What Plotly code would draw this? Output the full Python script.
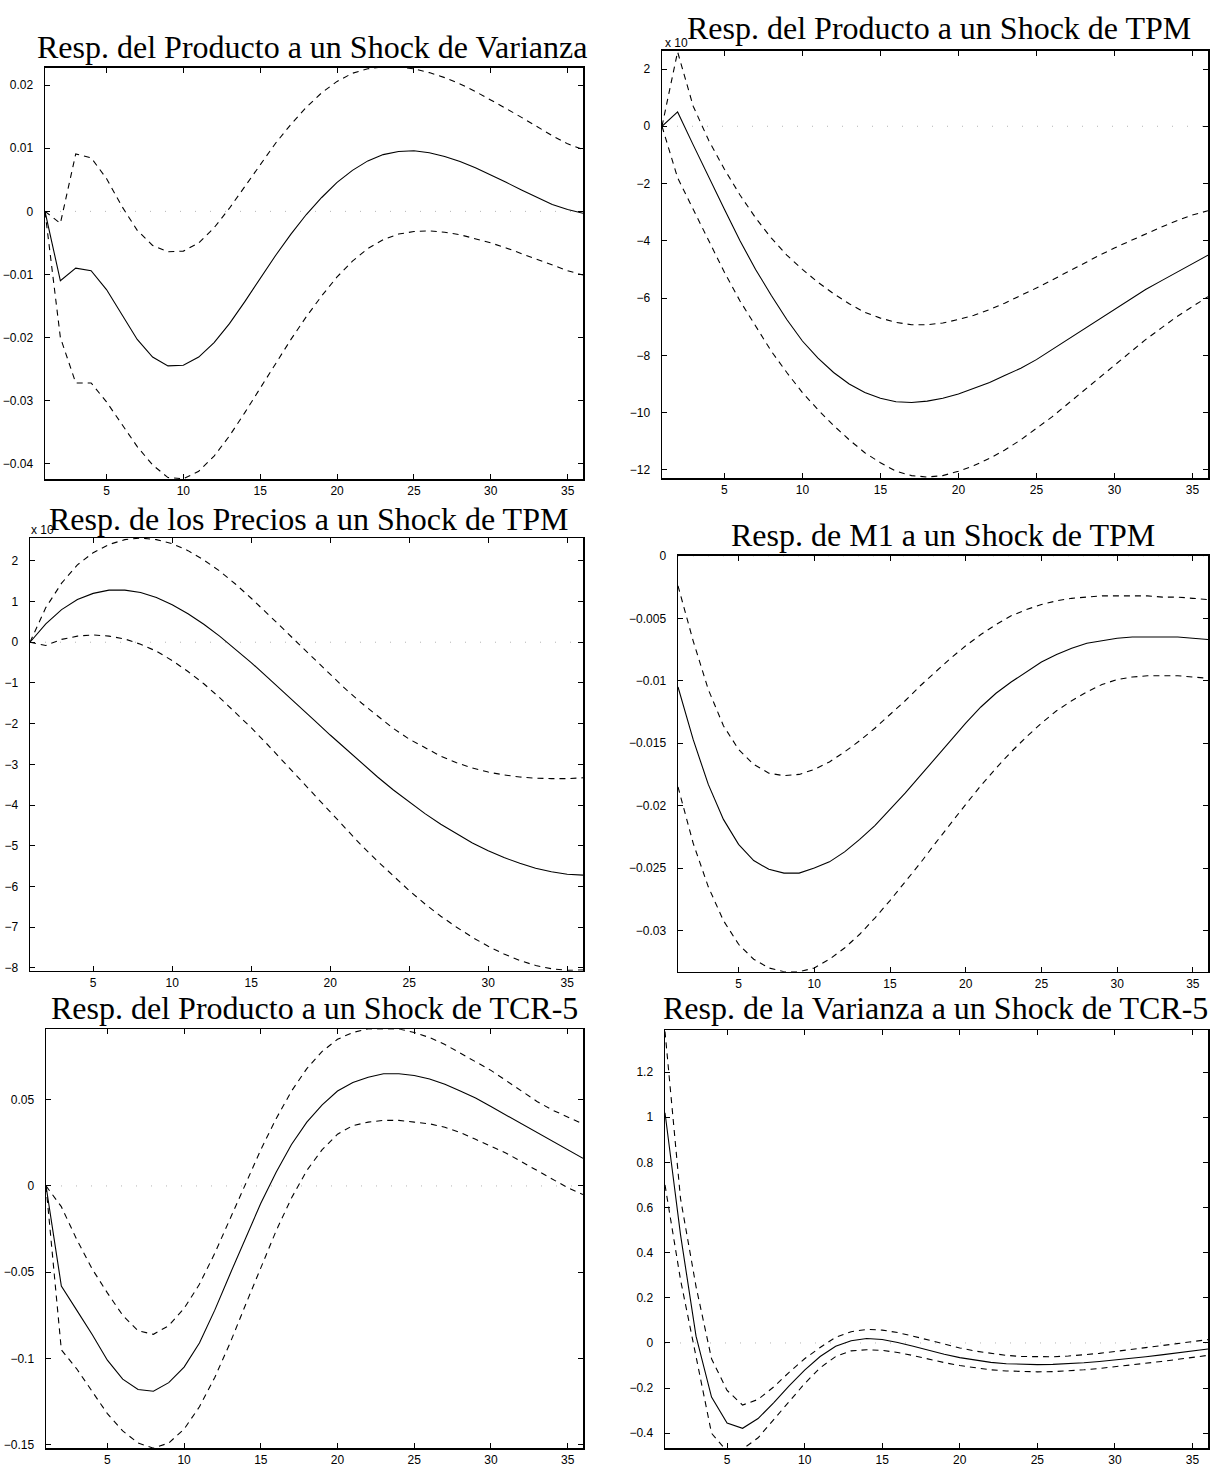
import plotly.graph_objects as go

W, H = 1212, 1473

periods = list(range(1, 37))
x_tick_vals = [5, 10, 15, 20, 25, 30, 35]
x_tick_text = ["5", "10", "15", "20", "25", "30", "35"]

titles = [
    "Resp. del Producto a un Shock de Varianza",
    "Resp. del Producto a un Shock de TPM",
    "Resp. de los Precios a un Shock de TPM",
    "Resp. de M1 a un Shock de TPM",
    "Resp. del Producto a un Shock de TCR-5",
    "Resp. de la Varianza a un Shock de TCR-5",
]

# Panel 1: Producto / Varianza
p1_mid = [0, -0.0110, -0.0090, -0.0094, -0.0124, -0.0164, -0.0203, -0.0231, -0.0245, -0.0244,
          -0.0231, -0.0208, -0.0178, -0.0143, -0.0106, -0.0070, -0.0036, -0.0005, 0.0022, 0.0046,
          0.0065, 0.0080, 0.0090, 0.0095, 0.0096, 0.0093, 0.0087, 0.0079, 0.0069, 0.0058,
          0.0046, 0.0034, 0.0022, 0.0011, 0.0003, -0.0003]
p1_up = [0, -0.0019, 0.0091, 0.0085, 0.0052, 0.0008, -0.0030, -0.0054, -0.0064, -0.0063,
         -0.0050, -0.0026, 0.0005, 0.0040, 0.0075, 0.0108, 0.0138, 0.0165, 0.0188, 0.0206,
         0.0219, 0.0226, 0.0229, 0.0229, 0.0226, 0.0220, 0.0212, 0.0202, 0.0190, 0.0177,
         0.0163, 0.0149, 0.0134, 0.0120, 0.0107, 0.0098]
p1_lo = [0, -0.0200, -0.0272, -0.0272, -0.0302, -0.0337, -0.0373, -0.0402, -0.0422, -0.0424,
         -0.0412, -0.0388, -0.0356, -0.0319, -0.0280, -0.0241, -0.0203, -0.0167, -0.0134, -0.0104,
         -0.0079, -0.0059, -0.0045, -0.0036, -0.0032, -0.0031, -0.0033, -0.0037, -0.0043, -0.0050,
         -0.0058, -0.0067, -0.0076, -0.0085, -0.0094, -0.0101]
p1_yticks = [-0.04, -0.03, -0.02, -0.01, 0, 0.01, 0.02]
p1_ytext = ["\u22120.04", "\u22120.03", "\u22120.02", "\u22120.01", "0", "0.01", "0.02"]

# Panel 2: Producto / TPM (x 10^-3)
p2_mid = [0, 0.5, -0.65, -1.8, -2.9, -4.0, -5.0, -5.9, -6.75, -7.5,
          -8.1, -8.6, -9.0, -9.3, -9.5, -9.62, -9.65, -9.6, -9.5, -9.35,
          -9.15, -8.95, -8.7, -8.45, -8.15, -7.8, -7.45, -7.1, -6.75, -6.4,
          -6.05, -5.7, -5.4, -5.1, -4.8, -4.5]
p2_up = [0, 2.6, 0.7, -0.5, -1.5, -2.4, -3.2, -3.9, -4.5, -5.0,
         -5.45, -5.85, -6.2, -6.5, -6.7, -6.85, -6.93, -6.93, -6.87, -6.75,
         -6.6, -6.4, -6.17, -5.92, -5.65, -5.37, -5.08, -4.8, -4.52, -4.25,
         -4.0, -3.75, -3.52, -3.3, -3.1, -2.95]
p2_lo = [0, -1.8, -2.9, -4.0, -5.1, -6.1, -7.0, -7.85, -8.6, -9.3,
         -9.9, -10.45, -10.95, -11.4, -11.75, -12.05, -12.2, -12.25, -12.2, -12.05,
         -11.85, -11.6, -11.3, -10.95, -10.55, -10.15, -9.7, -9.25, -8.8, -8.35,
         -7.9, -7.45, -7.05, -6.65, -6.3, -5.95]
p2_yticks = [-12, -10, -8, -6, -4, -2, 0, 2]
p2_ytext = ["\u221212", "\u221210", "\u22128", "\u22126", "\u22124", "\u22122", "0", "2"]

# Panel 3: Precios / TPM
p3_mid = [0, 0.45, 0.8, 1.05, 1.2, 1.28, 1.28, 1.22, 1.1, 0.92,
          0.7, 0.44, 0.15, -0.17, -0.5, -0.85, -1.2, -1.56, -1.92, -2.28,
          -2.63, -2.98, -3.31, -3.63, -3.93, -4.21, -4.47, -4.71, -4.93, -5.12,
          -5.29, -5.43, -5.55, -5.64, -5.7, -5.72]
p3_up = [0, 0.85, 1.45, 1.9, 2.2, 2.4, 2.52, 2.56, 2.52, 2.42,
         2.25, 2.02, 1.75, 1.43, 1.08, 0.72, 0.34, -0.04, -0.42, -0.8,
         -1.16, -1.5, -1.82, -2.12, -2.38, -2.6, -2.8, -2.96, -3.09, -3.19,
         -3.26, -3.31, -3.34, -3.35, -3.35, -3.33]
p3_lo = [0, -0.08, 0.07, 0.15, 0.18, 0.15, 0.08, -0.05, -0.22, -0.45,
         -0.72, -1.02, -1.36, -1.72, -2.1, -2.5, -2.92, -3.34, -3.76, -4.18,
         -4.6, -5.0, -5.38, -5.75, -6.1, -6.43, -6.73, -7.0, -7.25, -7.47,
         -7.66, -7.82, -7.94, -8.02, -8.06, -8.05]
p3_yticks = [-8, -7, -6, -5, -4, -3, -2, -1, 0, 1, 2]
p3_ytext = ["\u22128", "\u22127", "\u22126", "\u22125", "\u22124", "\u22123", "\u22122", "\u22121", "0", "1", "2"]

# Panel 4: M1 / TPM
p4_mid = [-0.0105, -0.0147, -0.0183, -0.0211, -0.0231, -0.0244, -0.0251, -0.0254, -0.0254, -0.0250,
          -0.0245, -0.0237, -0.0227, -0.0216, -0.0203, -0.0190, -0.0176, -0.0162, -0.0148, -0.0134,
          -0.0121, -0.0110, -0.0101, -0.0093, -0.0085, -0.0079, -0.0074, -0.0070, -0.0068, -0.0066,
          -0.0065, -0.0065, -0.0065, -0.0065, -0.0066, -0.0067]
p4_up = [-0.0024, -0.0068, -0.0107, -0.0136, -0.0155, -0.0167, -0.0174, -0.0176, -0.0175, -0.0171,
         -0.0165, -0.0157, -0.0148, -0.0138, -0.0127, -0.0116, -0.0104, -0.0093, -0.0082, -0.0072,
         -0.0063, -0.0055, -0.0048, -0.0043, -0.0039, -0.0036, -0.0034, -0.0033, -0.0032, -0.0032,
         -0.0032, -0.0032, -0.0033, -0.0033, -0.0034, -0.0035]
p4_lo = [-0.0185, -0.0230, -0.0265, -0.0292, -0.0311, -0.0323, -0.0330, -0.0333, -0.0333, -0.0330,
         -0.0323, -0.0314, -0.0303, -0.0290, -0.0276, -0.0261, -0.0246, -0.0230, -0.0214, -0.0199,
         -0.0184, -0.0170, -0.0157, -0.0145, -0.0134, -0.0124, -0.0116, -0.0109, -0.0103, -0.0099,
         -0.0097, -0.0096, -0.0096, -0.0096, -0.0097, -0.0098]
p4_yticks = [-0.03, -0.025, -0.02, -0.015, -0.01, -0.005, 0]
p4_ytext = ["\u22120.03", "\u22120.025", "\u22120.02", "\u22120.015", "\u22120.01", "\u22120.005", "0"]

# Panel 5: Producto / TCR-5
p5_mid = [0, -0.058, -0.072, -0.086, -0.101, -0.112, -0.118, -0.119, -0.114, -0.105,
          -0.091, -0.072, -0.051, -0.030, -0.010, 0.008, 0.024, 0.037, 0.047, 0.055,
          0.060, 0.063, 0.065, 0.065, 0.064, 0.062, 0.059, 0.055, 0.051, 0.046,
          0.041, 0.036, 0.031, 0.026, 0.021, 0.016]
p5_up = [0, -0.012, -0.031, -0.048, -0.062, -0.075, -0.084, -0.086, -0.081, -0.071,
         -0.057, -0.039, -0.019, 0.001, 0.021, 0.039, 0.055, 0.068, 0.078, 0.085,
         0.089, 0.091, 0.091, 0.091, 0.089, 0.086, 0.082, 0.077, 0.072, 0.067,
         0.061, 0.055, 0.049, 0.044, 0.040, 0.036]
p5_lo = [0, -0.095, -0.106, -0.119, -0.132, -0.142, -0.149, -0.152, -0.149, -0.141,
         -0.128, -0.111, -0.091, -0.069, -0.047, -0.026, -0.007, 0.009, 0.021, 0.030,
         0.035, 0.037, 0.038, 0.038, 0.037, 0.036, 0.034, 0.031, 0.027, 0.023,
         0.019, 0.014, 0.009, 0.004, -0.001, -0.005]
p5_yticks = [-0.15, -0.1, -0.05, 0, 0.05]
p5_ytext = ["\u22120.15", "\u22120.1", "\u22120.05", "0", "0.05"]

# Panel 6: Varianza / TCR-5
p6_mid = [1.02, 0.48, 0.03, -0.24, -0.355, -0.378, -0.335, -0.265, -0.19, -0.12,
          -0.06, -0.015, 0.01, 0.02, 0.015, 0.002, -0.015, -0.033, -0.05, -0.065,
          -0.077, -0.086, -0.092, -0.095, -0.096, -0.095, -0.092, -0.088, -0.082, -0.076,
          -0.069, -0.061, -0.053, -0.045, -0.036, -0.027]
p6_up = [1.38, 0.64, 0.25, -0.07, -0.21, -0.275, -0.25, -0.195, -0.13, -0.07,
         -0.02, 0.025, 0.05, 0.06, 0.057, 0.046, 0.03, 0.012, -0.006, -0.022,
         -0.036, -0.047, -0.055, -0.06, -0.062, -0.061, -0.058, -0.053, -0.046, -0.038,
         -0.03, -0.021, -0.012, -0.003, 0.006, 0.015]
p6_lo = [0.70, 0.28, -0.06, -0.40, -0.48, -0.47, -0.42, -0.34, -0.26, -0.18,
         -0.11, -0.06, -0.035, -0.03, -0.033, -0.042, -0.056, -0.072, -0.087, -0.1,
         -0.111, -0.119, -0.124, -0.127, -0.128, -0.127, -0.124, -0.119, -0.113, -0.106,
         -0.099, -0.091, -0.082, -0.073, -0.064, -0.055]
p6_yticks = [-0.4, -0.2, 0, 0.2, 0.4, 0.6, 0.8, 1, 1.2]
p6_ytext = ["\u22120.4", "\u22120.2", "0", "0.2", "0.4", "0.6", "0.8", "1", "1.2"]

panels = [
    dict(mid=p1_mid, up=p1_up, lo=p1_lo, yt=p1_yticks, ytt=p1_ytext, yr=[-0.0425, 0.0228],
         box=(45, 583, 61, 476), title_xy=(312, 40)),
    dict(mid=p2_mid, up=p2_up, lo=p2_lo, yt=p2_yticks, ytt=p2_ytext, yr=[-12.3, 2.64],
         box=(662, 1208, 44, 475), title_xy=(939, 21)),
    dict(mid=p3_mid, up=p3_up, lo=p3_lo, yt=p3_yticks, ytt=p3_ytext, yr=[-8.07, 2.56],
         box=(30, 583, 535, 971), title_xy=(308, 516)),
    dict(mid=p4_mid, up=p4_up, lo=p4_lo, yt=p4_yticks, ytt=p4_ytext, yr=[-0.0333, 0],
         box=(678, 1208, 553, 972), title_xy=(943, 532)),
    dict(mid=p5_mid, up=p5_up, lo=p5_lo, yt=p5_yticks, ytt=p5_ytext, yr=[-0.152, 0.0908],
         box=(46, 583, 1030, 1452), title_xy=(314, 1009)),
    dict(mid=p6_mid, up=p6_up, lo=p6_lo, yt=p6_yticks, ytt=p6_ytext, yr=[-0.466, 1.385],
         box=(665, 1208, 1031, 1452), title_xy=(935, 1009)),
]

fig = go.Figure()
annotations = []
layout_axes = {}
tick_font = dict(family="Liberation Sans Narrow, Liberation Sans, Arial, sans-serif", size=12, color="black")
title_font = dict(family="Liberation Serif, DejaVu Serif, serif", size=32, color="black")

for i, p in enumerate(panels):
    n = i + 1
    xa = "x" if n == 1 else f"x{n}"
    ya = "y" if n == 1 else f"y{n}"
    fig.add_trace(go.Scatter(x=[periods[0], periods[-1]], y=[0, 0], xaxis=xa, yaxis=ya,
                             mode="lines", line=dict(color="#b4b4b4", width=1, dash="1px,14px"),
                             showlegend=False, hoverinfo="skip"))
    fig.add_trace(go.Scatter(x=periods, y=p["up"], xaxis=xa, yaxis=ya, mode="lines",
                             line=dict(color="black", width=1.1, dash="6px,5px"), showlegend=False))
    fig.add_trace(go.Scatter(x=periods, y=p["lo"], xaxis=xa, yaxis=ya, mode="lines",
                             line=dict(color="black", width=1.1, dash="6px,5px"), showlegend=False))
    fig.add_trace(go.Scatter(x=periods, y=p["mid"], xaxis=xa, yaxis=ya, mode="lines",
                             line=dict(color="black", width=1.1), showlegend=False))
    x0, x1, y0, y1 = p["box"]
    common = dict(showline=True, linecolor="black", linewidth=1.5, mirror="ticks",
                  ticks="inside", ticklen=5, tickwidth=1, tickcolor="black",
                  showgrid=False, zeroline=False, tickfont=tick_font, fixedrange=True)
    layout_axes["xaxis" if n == 1 else f"xaxis{n}"] = dict(
        domain=[x0 / W, x1 / W], anchor=ya, range=[1, 36],
        tickmode="array", tickvals=x_tick_vals, ticktext=x_tick_text, ticklabelstandoff=0, **common)
    layout_axes["yaxis" if n == 1 else f"yaxis{n}"] = dict(
        domain=[1 - y1 / H, 1 - y0 / H], anchor=xa, range=p["yr"],
        tickmode="array", tickvals=p["yt"], ticktext=p["ytt"], ticklabelstandoff=8, **common)
    tx, ty = p["title_xy"]
    annotations.append(dict(text=titles[i], x=tx / W, y=1 - ty / H, xref="paper", yref="paper",
                            xanchor="center", yanchor="middle", showarrow=False, font=title_font))

# multiplier labels (exponent hidden behind the titles in the original)
for (mx, my) in [(663, 36), (29, 527)]:
    annotations.insert(0, dict(text="x 10", x=mx / W, y=1 - my / H, xref="paper", yref="paper",
                               xanchor="left", yanchor="middle", showarrow=False,
                               font=dict(family="Liberation Sans Narrow, Liberation Sans, Arial, sans-serif",
                                         size=12, color="black")))

fig.update_layout(width=W, height=H, margin=dict(l=0, r=0, t=0, b=0),
                  paper_bgcolor="white", plot_bgcolor="white",
                  annotations=annotations, **layout_axes)

fig.write_html("out.html", config={"displayModeBar": False, "staticPlot": True},
               post_script="document.body.style.margin='0';document.body.style.overflow='hidden';")
